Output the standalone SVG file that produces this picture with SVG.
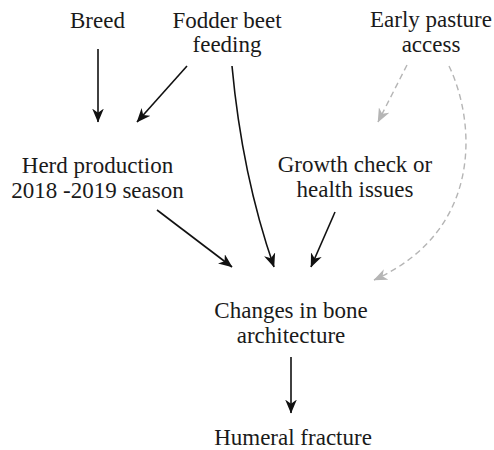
<svg xmlns="http://www.w3.org/2000/svg" width="494" height="450" viewBox="0 0 494 450">
<defs>
<style>
text{font-family:"Liberation Serif","Times New Roman",serif;font-size:23px;fill:#1a1a1a;text-anchor:middle}
.e{fill:none;stroke:#111;stroke-width:1.6}
.g{fill:none;stroke:#b5b5b5;stroke-width:1.4;stroke-dasharray:6 4}
</style>
<marker id="ab" viewBox="0 0 12 10" refX="11.5" refY="5" markerWidth="14" markerHeight="12" markerUnits="userSpaceOnUse" orient="auto">
<path d="M0,0 L12,5 L0,10 L3.5,5 z" fill="#111"/>
</marker>
<marker id="ag" viewBox="0 0 12 10" refX="11.5" refY="5" markerWidth="14" markerHeight="12" markerUnits="userSpaceOnUse" orient="auto">
<path d="M0,0 L12,5 L0,10 L3.5,5 z" fill="#b5b5b5"/>
</marker>
</defs>
<rect width="494" height="450" fill="#fff"/>
<g id="connectors">
<path class="e" d="M98,49 L98,122" marker-end="url(#ab)"/>
<path class="e" d="M187,66 L137,122" marker-end="url(#ab)"/>
<path class="e" d="M232,66 Q242,175 274,267" marker-end="url(#ab)"/>
<path class="e" d="M157,210 L232,267" marker-end="url(#ab)"/>
<path class="e" d="M335,212 L311,267" marker-end="url(#ab)"/>
<path class="g" d="M407,65 L378,122" marker-end="url(#ag)"/>
<path class="g" d="M449,66 C475,120 485,230 374,280" marker-end="url(#ag)"/>
<path class="e" d="M291,357 L291,413" marker-end="url(#ab)"/>
</g>
<g id="breed"><text x="97.5" y="28">Breed</text></g>
<g id="fodder"><text x="227" y="28">Fodder beet</text><text x="227" y="52">feeding</text></g>
<g id="pasture"><text x="431" y="27">Early pasture</text><text x="431" y="52">access</text></g>
<g id="herd"><text x="97.5" y="173">Herd production</text><text x="97.5" y="198">2018 -2019 season</text></g>
<g id="growth"><text x="355" y="172">Growth check or</text><text x="355" y="197">health issues</text></g>
<g id="bone"><text x="291" y="318">Changes in bone</text><text x="291" y="343">architecture</text></g>
<g id="fracture"><text x="293" y="445">Humeral fracture</text></g>
</svg>
